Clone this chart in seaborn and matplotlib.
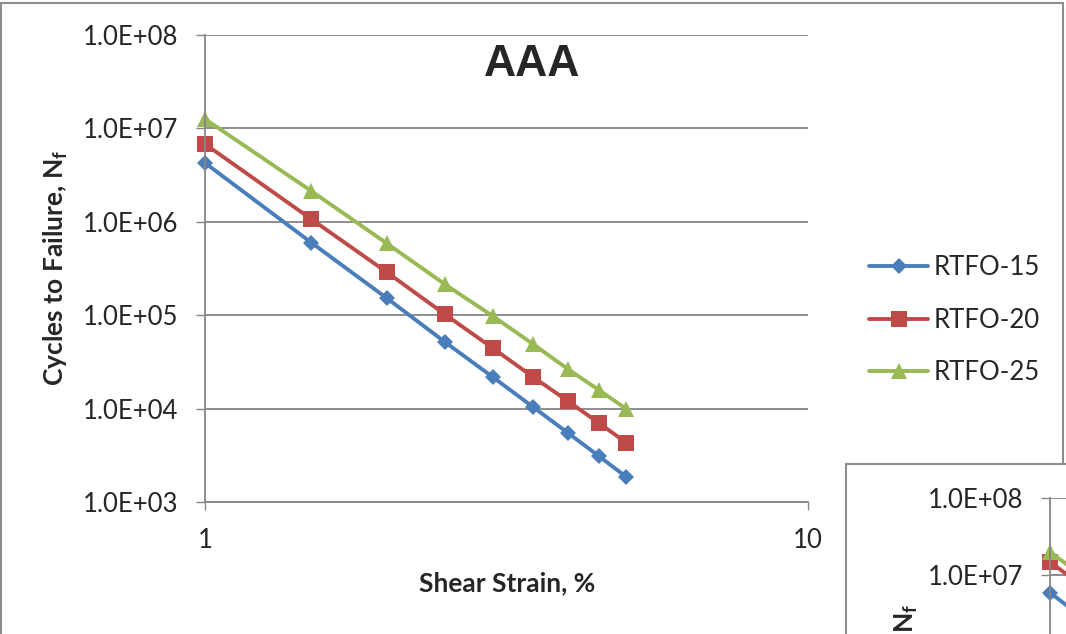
import matplotlib
matplotlib.use("Agg")
import matplotlib.pyplot as plt
import matplotlib.ticker as mticker
from matplotlib.patches import Rectangle
import seaborn as sns
import pandas as pd

# ---------------- data ----------------
shear_strain = [1, 1.5, 2, 2.5, 3, 3.5, 4, 4.5, 5]
rtfo_15 = [4.27e6, 6.0e5, 1.53e5, 5.16e4, 2.18e4, 1.04e4, 5.48e3, 3.1e3, 1.85e3]
rtfo_20 = [6.8e6, 1.07e6, 2.9e5, 1.02e5, 4.45e4, 2.18e4, 1.2e4, 7.0e3, 4.3e3]
rtfo_25 = [1.26e7, 2.14e6, 5.9e5, 2.14e5, 9.8e4, 4.9e4, 2.64e4, 1.58e4, 9.9e3]
series_names = ["RTFO-15", "RTFO-20", "RTFO-25"]

# second (partially visible) chart in the lower-right corner
inset_strain = [1, 1.5]
inset_15 = [5.9e6, 7.9e5]
inset_20 = [1.48e7, 2.1e6]
inset_25 = [2.0e7, 2.8e6]

y_ticks = [1e3, 1e4, 1e5, 1e6, 1e7, 1e8]
y_tick_labels = ["1.0E+03", "1.0E+04", "1.0E+05", "1.0E+06", "1.0E+07", "1.0E+08"]
x_ticks = [1, 10]
x_tick_labels = ["1", "10"]

title = "AAA"
x_label = "Shear Strain, %"
y_label = r"Cycles to Failure, N$_\mathbf{f}$"

# ---------------- style ----------------
sns.set_theme(style="white")
plt.rcParams["font.family"] = ["Lato", "DejaVu Sans"]
plt.rcParams["mathtext.fontset"] = "custom"
plt.rcParams["mathtext.rm"] = "Lato"
plt.rcParams["mathtext.bf"] = "Lato:bold"

colors = ["#4A7EBB", "#BE4B48", "#98B954"]
markers = ["D", "s", "^"]
msizes = [8.0, 11.5, 12.0]
grid_c = "#868686"
tick_fs = 18.5
label_fs = 19
lw = 2.8

W, H = 1066, 634
fig = plt.figure(figsize=(W / 100, H / 100), dpi=100)

def fx(px):
    return px / W

def fy(py):
    return 1 - py / H

# outer chart frame
fig.patches.append(Rectangle((fx(1), fy(700)), fx(1063) - fx(1), fy(3) - fy(700),
                             transform=fig.transFigure, facecolor="white",
                             edgecolor="#8c8c8c", lw=1.5, zorder=-10))

def style_axes(ax):
    ax.set_xscale("log")
    ax.set_yscale("log")
    ax.set_xlim(1, 10)
    ax.set_ylim(1e3, 1e8)
    ax.yaxis.set_major_locator(mticker.FixedLocator(y_ticks))
    ax.yaxis.set_major_formatter(mticker.FixedFormatter(y_tick_labels))
    ax.xaxis.set_major_locator(mticker.FixedLocator(x_ticks))
    ax.xaxis.set_major_formatter(mticker.FixedFormatter(x_tick_labels))
    ax.minorticks_off()
    ax.set_facecolor("none")
    for s in ["top", "right"]:
        ax.spines[s].set_visible(False)
    for s in ["left", "bottom"]:
        ax.spines[s].set_color(grid_c)
        ax.spines[s].set_linewidth(1.3)
    ax.grid(False)
    ax.yaxis.grid(True, color=grid_c, lw=1.3)
    ax.set_axisbelow(True)
    ax.tick_params(axis="y", direction="out", length=6.5, width=1.0, color=grid_c,
                   labelsize=tick_fs, pad=13, left=True)
    ax.tick_params(axis="x", direction="out", length=6, width=1.0, color=grid_c,
                   labelsize=tick_fs, pad=13, bottom=True)

# ---------------- main chart ----------------
ax = fig.add_axes([fx(205), fy(502), fx(808) - fx(205), fy(35) - fy(502)])
style_axes(ax)

df = pd.DataFrame({"strain": shear_strain, series_names[0]: rtfo_15,
                   series_names[1]: rtfo_20, series_names[2]: rtfo_25})
for name, c, m, ms in zip(series_names, colors, markers, msizes):
    sns.lineplot(data=df, x="strain", y=name, ax=ax, color=c, marker=m,
                 markersize=ms, markeredgewidth=0, linewidth=lw, label=name,
                 clip_on=False)

ax.set_xlabel(x_label, fontsize=label_fs, fontweight="bold")
ax.set_ylabel(y_label, fontsize=label_fs, fontweight="bold")
ax.xaxis.set_label_coords((507 - 205) / 603, (502 - 583) / 467)
ax.xaxis.label.set_va("center")
ax.yaxis.set_label_coords((56 - 205) / 603, (502 - 268) / 467)
ax.yaxis.label.set_va("center")

ax.text((532 - 205) / 603, (502 - 76) / 467, title, transform=ax.transAxes,
        ha="center", va="baseline", fontsize=32, fontweight="bold",
        family=["Liberation Sans", "DejaVu Sans"])

leg = ax.legend(loc="center left", bbox_to_anchor=(fx(869), fy(320)),
                bbox_transform=fig.transFigure, frameon=False, fontsize=tick_fs,
                handlelength=2.3, handletextpad=0.2, labelspacing=1.08,
                borderpad=0, borderaxespad=0)

# ---------------- second chart (partially visible) ----------------
fig.patches.append(Rectangle((fx(846), fy(900)), fx(1300) - fx(846), fy(464) - fy(900),
                             transform=fig.transFigure, facecolor="white",
                             edgecolor="#8c8c8c", lw=1.5, zorder=5))
ax2 = fig.add_axes([fx(1050), fy(883), 497 / W, 385 / H])
ax2.set_zorder(6)
style_axes(ax2)
df2 = pd.DataFrame({"strain": inset_strain, series_names[0]: inset_15,
                    series_names[1]: inset_20, series_names[2]: inset_25})
for name, c, m, ms in zip(series_names, colors, markers, msizes):
    sns.lineplot(data=df2, x="strain", y=name, ax=ax2, color=c, marker=m,
                 markersize=ms, markeredgewidth=0, linewidth=lw, legend=False,
                 clip_on=False)
ax2.set_xlabel("")
ax2.set_ylabel(y_label, fontsize=label_fs, fontweight="bold")
ax2.yaxis.set_label_coords((906 - 1050) / 497, (883 - 722) / 385)
ax2.yaxis.label.set_va("center")

fig.savefig("out.png", dpi=100)
